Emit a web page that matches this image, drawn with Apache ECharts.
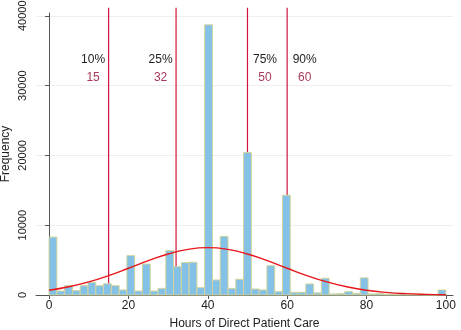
<!DOCTYPE html>
<html><head><meta charset="utf-8">
<script src="https://cdn.jsdelivr.net/npm/echarts@6/dist/echarts.min.js"></script>
<style>html,body{margin:0;padding:0;background:#fff}#c{width:461px;height:330px}</style>
</head><body><div id="c"></div>
<script>
const binWidth = 100 / 51;
const binCounts = [8300, 570, 1330, 620, 1330, 1810, 1330, 1620, 1330, 720,
  5640, 570, 4440, 570, 950, 6360, 4060, 4640, 4690, 1050,
  38700, 2150, 8400, 950, 2250, 20400, 860, 720, 4200, 480,
  14300, 390, 390, 1580, 300, 2400, 150, 200, 480, 240,
  2450, 150, 200, 120, 100, 250, 80, 60, 40, 30, 720];
const curveX = [0, 5, 10, 15, 20, 25, 30, 35, 40, 45, 50, 55, 60, 65, 70, 75, 80, 85, 90, 95, 100];
const curveY = [688, 1177, 1871, 2773, 3828, 4915, 5877, 6542, 6780, 6542, 5877, 4915, 3828, 2773, 1871, 1177, 688, 375, 190, 90, 39];
const pctLabels = ['10%', '25%', '75%', '90%'];
const pctValues = [15, 32, 50, 60];
const xTicks = [0, 20, 40, 60, 80, 100];
const yTicks = [0, 10000, 20000, 30000, 40000];
const lineTop = 41150;
const pctLabelY = 33700;
const valLabelY = 31100;

const FONT = 'Liberation Sans, Arial, sans-serif';
const chart = echarts.init(document.getElementById('c'), null, {renderer: 'canvas'});

const barData = binCounts.map((c, i) => [i * binWidth, (i + 1) * binWidth, c]);
const curveData = curveX.map((x, i) => [x, curveY[i]]);
const lineData = pctValues.map((v, i) => [v, i]);

chart.setOption({
  animation: false,
  backgroundColor: '#fff',
  grid: {left: 36, right: 8, top: 13, bottom: 35, containLabel: false, outerBoundsMode: 'none'},
  xAxis: {
    type: 'value', min: -3.3, max: 101.8,
    name: 'Hours of Direct Patient Care', nameLocation: 'middle', nameGap: 23, nameMoveOverlap: false,
    nameTextStyle: {fontFamily: FONT, fontSize: 12, color: '#222'},
    axisLine: {show: true, lineStyle: {color: '#555', width: 1}},
    axisTick: {show: true, length: 4, lineStyle: {color: '#555'}, customValues: xTicks},
    axisLabel: {fontFamily: FONT, fontSize: 12, color: '#222', margin: 5, customValues: xTicks},
    splitLine: {show: false}
  },
  yAxis: {
    type: 'value', min: 0, max: 40400, interval: 10000,
    name: 'Frequency', nameLocation: 'middle', nameGap: 24, nameMoveOverlap: false,
    nameTextStyle: {fontFamily: FONT, fontSize: 12, color: '#222'},
    axisLine: {show: true, lineStyle: {color: '#555', width: 1}},
    axisTick: {show: true, length: 4, lineStyle: {color: '#555'}, customValues: yTicks},
    axisLabel: {fontFamily: FONT, fontSize: 11, color: '#222', rotate: 90, margin: 8, customValues: yTicks,
      formatter: function (v) { return String(v); }},
    splitLine: {show: true, lineStyle: {color: '#eeeeee', width: 1}}
  },
  series: [
    {
      type: 'custom', z: 1, clip: false,
      data: lineData,
      encode: {x: 0},
      renderItem: function (params, api) {
        const v = api.value(0);
        const i = api.value(1);
        const pb = api.coord([v, 0]);
        const pt = api.coord([v, lineTop]);
        const off = i < 2 ? -15.5 : 17.5;
        const p1 = api.coord([v, pctLabelY]);
        const p2 = api.coord([v, valLabelY]);
        return {
          type: 'group',
          children: [
            {type: 'line', shape: {x1: pb[0], y1: pb[1], x2: pt[0], y2: pt[1]},
             style: {stroke: '#d2143f', lineWidth: 1.2}},
            {type: 'text', x: p1[0] + off, y: p1[1],
             style: {text: pctLabels[i], fill: '#222', font: '12px ' + FONT, align: 'center', verticalAlign: 'middle'}},
            {type: 'text', x: p2[0] + off, y: p2[1],
             style: {text: String(pctValues[i]), fill: '#a83a58', font: '12px ' + FONT, align: 'center', verticalAlign: 'middle'}}
          ]
        };
      }
    },
    {
      type: 'custom', z: 2,
      data: barData,
      encode: {x: [0, 1], y: 2},
      renderItem: function (params, api) {
        const p0 = api.coord([api.value(0), 0]);
        const p1 = api.coord([api.value(1), api.value(2)]);
        return {
          type: 'rect',
          shape: {x: p0[0], y: p1[1], width: p1[0] - p0[0], height: p0[1] - p1[1]},
          style: {fill: '#84c1e6', stroke: '#d3d49e', lineWidth: 1}
        };
      }
    },
    {
      type: 'line', z: 3,
      data: curveData,
      smooth: true, symbol: 'none',
      lineStyle: {color: '#e8161b', width: 1.4}
    }
  ]
});
</script>
</body></html>
